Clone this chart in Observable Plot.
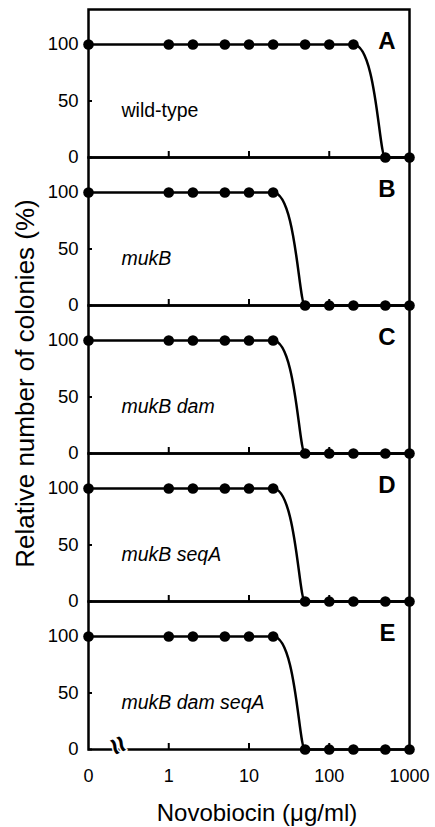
<!DOCTYPE html>
<html>
<head>
<meta charset="utf-8">
<script src="https://cdn.jsdelivr.net/npm/d3@7"></script>
<script src="https://cdn.jsdelivr.net/npm/@observablehq/plot@0.6"></script>
<style>
  body { margin: 0; background: #fff; }
  #chart svg { font-family: "Liberation Sans", Arial, Helvetica, sans-serif; }
</style>
</head>
<body>
<div id="chart"></div>
<script>
// ---- data ----
const concentrations = [0, 1, 2, 5, 10, 20, 50, 100, 200, 500, 1000]; // µg/ml
const strains = ["wild-type", "mukB", "mukB dam", "mukB seqA", "mukB dam seqA"];
const panelLetters = ["A", "B", "C", "D", "E"];
const wildType    = [100, 100, 100, 100, 100, 100, 100, 100, 100, 0, 0];
const mukB        = [100, 100, 100, 100, 100, 100, 0, 0, 0, 0, 0];
const mukBDam     = [100, 100, 100, 100, 100, 100, 0, 0, 0, 0, 0];
const mukBSeqA    = [100, 100, 100, 100, 100, 100, 0, 0, 0, 0, 0];
const mukBDamSeqA = [100, 100, 100, 100, 100, 100, 0, 0, 0, 0, 0];
const xTickValues = [0, 1, 10, 100, 1000];
const xTickLabels = ["0", "1", "10", "100", "1000"];
const yTickValues = [0, 50, 100];
const zeroAxisPosition = 0.1;   // where "0" sits on the broken log axis
const axisBreakAt = [0.18];     // location of the axis-break symbol
const xLabel = "Novobiocin (\u03bcg/ml)";
const yLabel = "Relative number of colonies (%)";

// ---- build table ----
const series = [wildType, mukB, mukBDam, mukBSeqA, mukBDamSeqA];
const pos = (c) => (c === 0 ? zeroAxisPosition : c);
const rows = strains.flatMap((s, i) =>
  concentrations.map((c, j) => ({ strain: s, conc: pos(c), value: series[i][j] }))
);
const tickPositions = xTickValues.map(pos);
const font = "Liberation Sans, Arial, sans-serif";

// curve style: flat runs stay straight, a change of level is drawn as a
// steep, late sigmoid drop (as in the hand-drawn original)
function lateDrop(context) {
  let px, py, started = false;
  return {
    areaStart() {}, areaEnd() {},
    lineStart() { started = false; },
    lineEnd() {},
    point(x, y) {
      x = +x; y = +y;
      if (!started) { context.moveTo(x, y); started = true; }
      else if (y === py) context.lineTo(x, y);
      else {
        const c1 = px + 0.72 * (x - px);
        const c2 = px + 0.8 * (x - px);
        context.bezierCurveTo(c1, py, c2, y, x, y);
      }
      px = x; py = y;
    }
  };
}

const chart = Plot.plot({
  width: 435,
  height: 827,
  marginTop: 8,
  marginBottom: 77,
  marginLeft: 88,
  marginRight: 26,
  style: { fontFamily: font, color: "black", background: "white" },
  x: { type: "log", domain: [zeroAxisPosition, 1000] },
  y: { domain: [0, 131] },
  fy: { domain: strains, padding: 0, axis: null },
  marks: [
    // inward y ticks + labels
    Plot.axisY(yTickValues, {
      anchor: "left", tickSize: 4, dx: 4, tickPadding: 10,
      fontSize: 18.5, strokeWidth: 2, label: null
    }),
    // upward x ticks in every panel
    Plot.axisX(tickPositions.slice(1, 4), {
      anchor: "bottom", facetAnchor: null, tickSize: 6, dy: -6,
      strokeWidth: 2, fill: "none", label: null
    }),
    // x tick labels (bottom panel)
    Plot.axisX(tickPositions, {
      anchor: "bottom", tickSize: 0, tickPadding: 20, fontSize: 18,
      tickFormat: (d) => xTickLabels[tickPositions.indexOf(d)], label: null
    }),
    Plot.frame({ stroke: "black", strokeWidth: 2.5 }),
    Plot.line(rows, {
      x: "conc", y: "value", fy: "strain", z: "strain",
      curve: lateDrop, stroke: "black", strokeWidth: 2.5
    }),
    Plot.dot(rows, { x: "conc", y: "value", fy: "strain", r: 5.3, fill: "black" }),
    // panel letters
    Plot.text(strains, {
      fy: (d) => d, text: (d, i) => panelLetters[i],
      frameAnchor: "top-right", textAnchor: "end", lineAnchor: "top",
      dx: -14, dy: 22, fontSize: 24, fontWeight: "bold", fill: "black"
    }),
    // strain labels
    Plot.text(strains.slice(0, 1), {
      fy: (d) => d, text: (d) => d, frameAnchor: "left", textAnchor: "start",
      dx: 33, dy: 27, fontSize: 19.5, fill: "black"
    }),
    Plot.text(strains.slice(1), {
      fy: (d) => d, text: (d) => d, frameAnchor: "left", textAnchor: "start",
      dx: 33, dy: 27, fontSize: 19.5, fontStyle: "italic", fill: "black"
    }),
    // axis break symbol
    Plot.text(axisBreakAt, {
      x: (d) => d, fy: () => strains[4], frameAnchor: "bottom",
      text: () => "\u2248", rotate: 65, fontSize: 30, fontWeight: "bold",
      fill: "black", stroke: "white", strokeWidth: 3
    }),
    // axis titles
    Plot.text([xLabel], {
      fy: () => strains[4], frameAnchor: "bottom", textAnchor: "middle", text: (d) => d,
      dy: 71, dx: 8, fontSize: 24, fill: "black"
    }),
    Plot.text([yLabel], {
      fy: () => strains[2], frameAnchor: "left", textAnchor: "middle", text: (d) => d,
      rotate: -90, dx: -63, dy: 4, fontSize: 26, fill: "black"
    })
  ]
});
document.getElementById("chart").appendChild(chart);
</script>
</body>
</html>
